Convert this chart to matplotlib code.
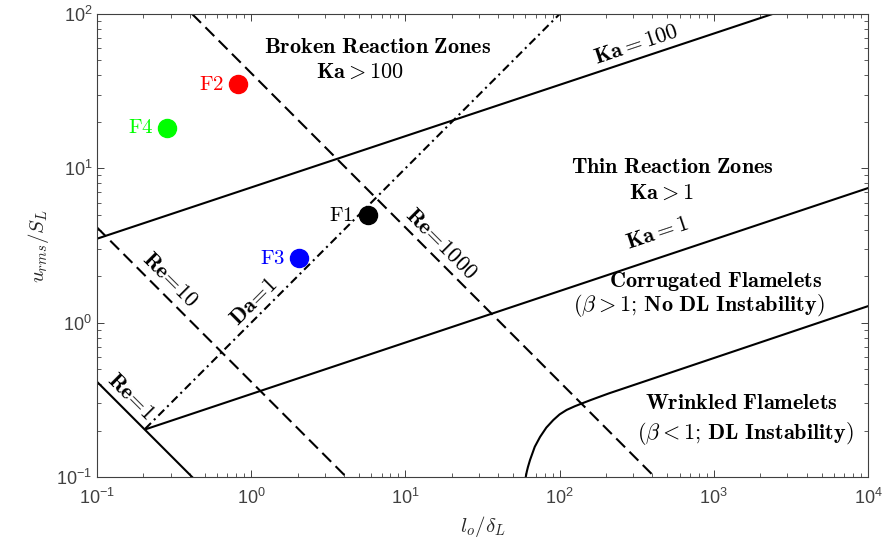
import numpy as np
import matplotlib
matplotlib.use('Agg')
from matplotlib import pyplot as plt

plt.rcParams['font.family'] = 'Liberation Sans'
plt.rcParams['mathtext.fontset'] = 'cm'

# regime boundaries (l_o/delta_L , u_rms/S_L)
ka100_x = [0.1, 2400]
ka100_y = [3.5, 100]
ka1_x = [0.21, 1e4]
ka1_y = [0.205, 7.45]
re1_x = [0.1, 0.414]
re1_y = [0.414, 0.1]
re10_x = [0.1, 4.14]
re10_y = [4.14, 0.1]
re1000_x = [0.414, 414]
re1000_y = [100, 0.1]
da1_x = [0.205, 100]
da1_y = [0.205, 100]
dl_x = [60.3, 61.2, 62.3, 64.3, 69, 74.7, 82, 91, 100, 111, 125, 141, 160, 183, 210, 246, 1e4]
dl_y = [0.1, 0.108, 0.116, 0.129, 0.157, 0.182, 0.209, 0.234, 0.2546, 0.272, 0.287,
        0.301, 0.316, 0.332, 0.349, 0.368, 1.28]

# flames
flame_names = ['F1', 'F2', 'F3', 'F4']
flame_x = [5.69, 0.825, 2.04, 0.286]
flame_y = [4.98, 35, 2.61, 18.3]
flame_colors = ['black', 'red', 'blue', (0, 1, 0)]

fig = plt.figure(figsize=(8.86, 5.5), dpi=100)
ax = fig.add_axes([0.1095, 0.1327, 0.8702, 0.8418])
ax.set_xscale('log')
ax.set_yscale('log')

lw = 1.5
ax.plot(ka100_x, ka100_y, 'k-', lw=lw)
ax.plot(ka1_x, ka1_y, 'k-', lw=lw)
ax.plot(re1_x, re1_y, 'k-', lw=lw)
ax.plot(re10_x, re10_y, 'k', lw=lw, ls=(0, (6, 3)))
ax.plot(re1000_x, re1000_y, 'k', lw=lw, ls=(0, (6, 3)))
ax.plot(da1_x, da1_y, 'k', lw=lw, ls=(0, (4, 2, 1, 2)))
ax.plot(dl_x, dl_y, 'k-', lw=lw)

for n, x, y, c in zip(flame_names, flame_x, flame_y, flame_colors):
    ax.plot(x, y, 'o', color=c, ms=13, zorder=5)
    ax.annotate(r'$\mathrm{' + n + '}$', (x, y), xytext=(-10, 0),
                textcoords='offset points', ha='right', va='center',
                color=c, fontsize=15)

fs = 16
def lab(x, y, s, rot=0):
    ax.text(x, y, s, ha='center', va='center', rotation=rot,
            rotation_mode='anchor', fontsize=fs, color='k')

lab(6.59, 61.1, r'$\mathbf{Broken\ Reaction\ Zones}$')
lab(5.08, 41.7, r'$\mathbf{Ka} > \mathbf{100}$')
lab(540, 10.1, r'$\mathbf{Thin\ Reaction\ Zones}$')
lab(459, 6.89, r'$\mathbf{Ka} > \mathbf{1}$')
lab(316, 63, r'$\mathbf{Ka} = \mathbf{100}$', 18.4)
lab(427, 3.79, r'$\mathbf{Ka} = \mathbf{1}$', 18.4)
lab(1030, 1.84, r'$\mathbf{Corrugated\ Flamelets}$')
lab(794, 1.30, r'$(\beta > \mathbf{1;\,No\ DL\ Instability})$')
lab(1500, 0.300, r'$\mathbf{Wrinkled\ Flamelets}$')
lab(1607, 0.1925, r'$(\beta < \mathbf{1;\,DL\ Instability})$')
lab(0.1655, 0.331, r'$\mathbf{Re}\!=\!\mathbf{1}$', -45)
lab(0.297, 1.89, r'$\mathbf{Re}\!=\!\mathbf{10}$', -45)
lab(16.9, 3.23, r'$\mathbf{Re}\!=\!\mathbf{1000}$', -45)
lab(1.04, 1.35, r'$\mathbf{Da}\!=\!\mathbf{1}$', 45)

ax.set_xlim(0.1, 1e4)
ax.set_ylim(0.1, 100)
ax.set_xlabel(r'$l_o/\delta_L$', fontsize=15, color='0.15')
ax.set_ylabel(r'$u_{rms}/S_L$', fontsize=15, color='0.15')

gray = '0.25'
for s in ax.spines.values():
    s.set_color(gray)
    s.set_linewidth(0.8)
ax.tick_params(which='both', direction='in', top=True, right=True,
               colors=gray, labelsize=13)
ax.tick_params(which='major', length=5, width=0.7)
ax.tick_params(which='minor', length=3, width=0.6)
ax.tick_params(axis='x', pad=8)

fig.savefig('out.png', dpi=100)
